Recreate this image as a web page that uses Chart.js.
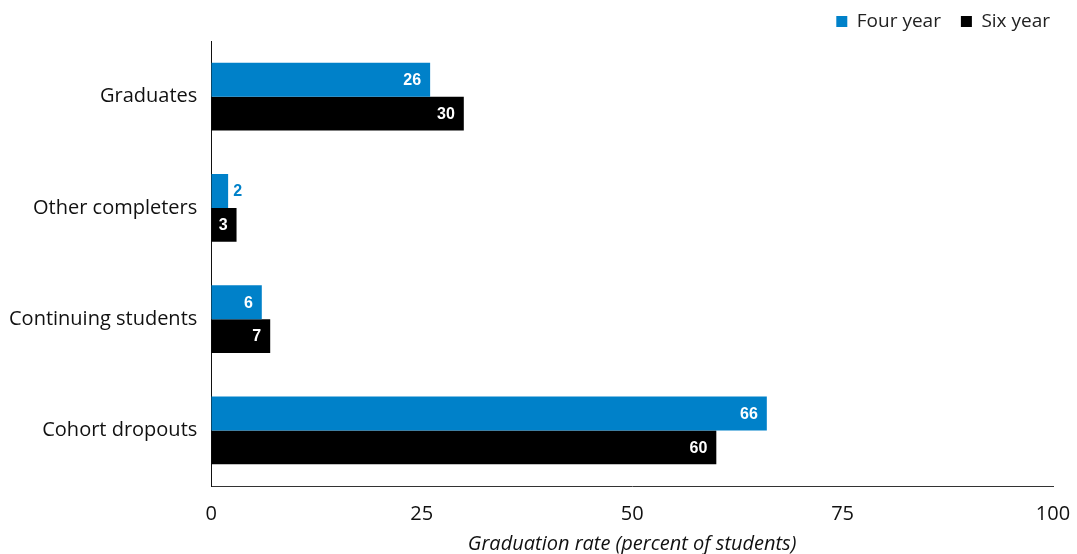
<!DOCTYPE html>
<html>
<head>
<meta charset="utf-8">
<script src="https://cdn.jsdelivr.net/npm/chart.js@4/dist/chart.umd.min.js"></script>
<style>
  html, body { margin: 0; padding: 0; background: #fff; }
  #wrap { width: 1077px; height: 554px; }
</style>
</head>
<body>
<div id="wrap"><canvas id="c" width="1077" height="554"></canvas></div>
<script>
const categories = ["Graduates", "Other completers", "Continuing students", "Cohort dropouts"];
const fourYear = [26, 2, 6, 66];
const sixYear = [30, 3, 7, 60];
const xTicks = [0, 25, 50, 75, 100];

const BLUE = "#0081C9";
const BLACK = "#000000";
const FONT = "'Open Sans', 'Liberation Sans', Arial, sans-serif";
const LABEL_FONT = "'Liberation Sans', Arial, sans-serif";

// Writes each bar's value at the end of the bar; short bars get the label outside.
const valueLabels = {
  id: "valueLabels",
  afterDatasetsDraw(chart) {
    const ctx = chart.ctx;
    ctx.save();
    ctx.font = "bold 16px " + LABEL_FONT;
    ctx.textBaseline = "middle";
    chart.data.datasets.forEach((ds, di) => {
      const meta = chart.getDatasetMeta(di);
      meta.data.forEach((bar, i) => {
        const text = String(ds.data[i]);
        const w = ctx.measureText(text).width;
        const len = bar.x - bar.base;
        if (len > w + 12) {
          ctx.fillStyle = "#fff";
          ctx.textAlign = "right";
          ctx.fillText(text, bar.x - 9, bar.y + 1);
        } else if (di === 0) {
          ctx.fillStyle = ds.backgroundColor;
          ctx.textAlign = "left";
          ctx.fillText(text, bar.x + 5, bar.y + 1);
        } else {
          ctx.fillStyle = "#fff";
          ctx.textAlign = "center";
          ctx.fillText(text, (bar.x + bar.base) / 2 + 1, bar.y + 1);
        }
      });
    });
    ctx.restore();
  }
};

new Chart(document.getElementById("c"), {
  type: "bar",
  data: {
    labels: categories,
    datasets: [
      { label: "Four year", data: fourYear, backgroundColor: BLUE, borderWidth: 0 },
      { label: "Six year", data: sixYear, backgroundColor: BLACK, borderWidth: 0 }
    ]
  },
  options: {
    indexAxis: "y",
    responsive: false,
    animation: false,
    devicePixelRatio: 1,
    layout: { padding: { top: -8, right: 7, left: -5, bottom: 0 } },
    datasets: { bar: { categoryPercentage: 0.61, barPercentage: 1.0 } },
    plugins: {
      legend: {
        position: "top",
        align: "end",
        labels: {
          boxWidth: 11, boxHeight: 11, color: "#222",
          font: { family: FONT, size: 19 }, padding: 20
        }
      },
      tooltip: { enabled: false }
    },
    scales: {
      x: {
        min: 0, max: 100,
        afterBuildTicks(axis) { axis.ticks = xTicks.map(v => ({ value: v })); },
        // fixed right margin so the "100" label sits just inside the canvas
        afterFit(scale) { scale.paddingRight = 24; },
        grid: { display: false, drawTicks: false },
        border: { display: true, color: "#333", width: 1 },
        ticks: { color: "#111", font: { family: FONT, size: 20, lineHeight: 1.0 }, padding: 18 },
        title: {
          display: true, text: "Graduation rate (percent of students)",
          color: "#111", font: { family: FONT, size: 20, style: "italic", lineHeight: 1.0 },
          padding: { top: -8, bottom: 0 }
        }
      },
      y: {
        grid: { display: false, drawTicks: false },
        border: { display: true, color: "#111", width: 1 },
        ticks: { color: "#111", font: { family: FONT, size: 20 }, padding: 14 }
      }
    }
  },
  plugins: [valueLabels]
});
</script>
</body>
</html>
